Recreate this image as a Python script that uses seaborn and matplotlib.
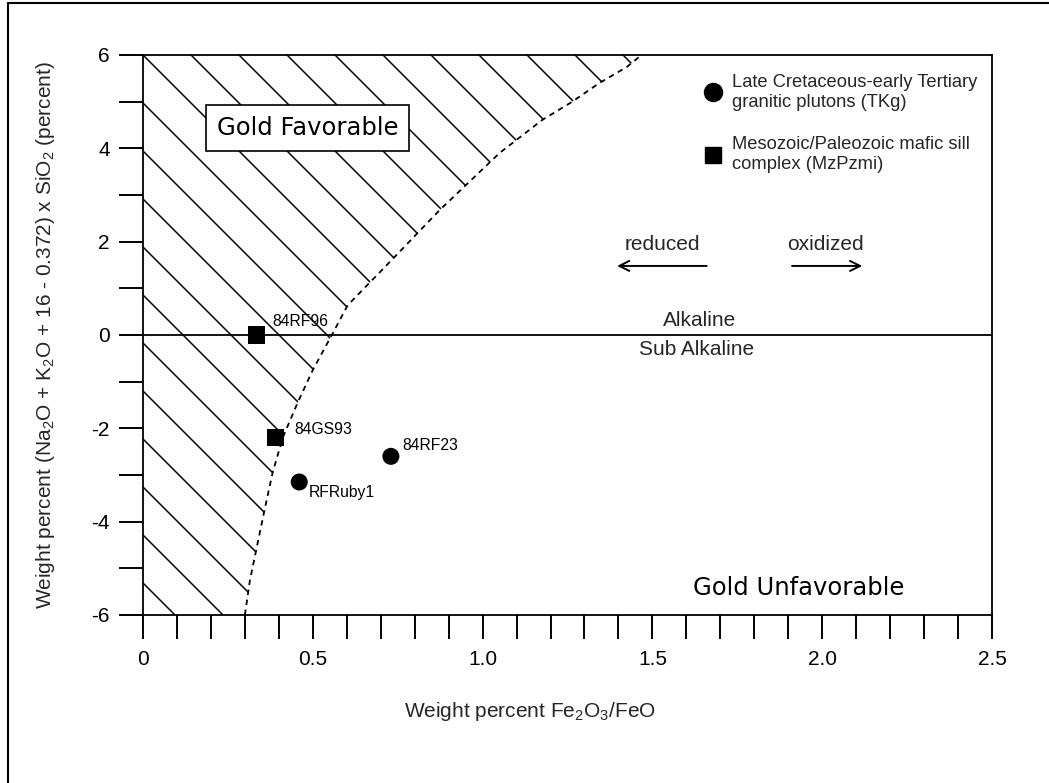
import numpy as np
import pandas as pd
import matplotlib
matplotlib.use("Agg")
import matplotlib.pyplot as plt
from matplotlib.lines import Line2D
from matplotlib.patches import Polygon
import seaborn as sns

# --- data -----------------------------------------------------------------
samples = ["84RF96", "84GS93", "RFRuby1", "84RF23"]
fe_ratio = [0.335, 0.39, 0.46, 0.73]          # Fe2O3/FeO
alkali_index = [0.0, -2.2, -3.15, -2.6]       # (Na2O+K2O+16-0.372) x SiO2
unit = ["MzPzmi", "MzPzmi", "TKg", "TKg"]

# boundary between gold-favorable and gold-unfavorable fields
boundary_x = [0.30, 0.315, 0.359, 0.382, 0.412, 0.456, 0.50, 0.556, 0.603,
              0.726, 0.874, 1.05, 1.176, 1.262, 1.344, 1.424, 1.468]
boundary_y = [-6.0, -5.25, -3.71, -2.94, -2.19, -1.44, -0.75, 0.0, 0.64,
              1.56, 2.68, 3.90, 4.61, 4.99, 5.40, 5.74, 6.0]

legend_labels = {
    "TKg": "Late Cretaceous-early Tertiary\ngranitic plutons (TKg)",
    "MzPzmi": "Mesozoic/Paleozoic mafic sill\ncomplex (MzPzmi)",
}

df = pd.DataFrame({"sample": samples, "x": fe_ratio, "y": alkali_index, "unit": unit})

# --- style ----------------------------------------------------------------
sns.set_theme(style="white")
plt.rcParams["font.family"] = ["Liberation Sans", "DejaVu Sans"]
plt.rcParams["mathtext.fontset"] = "custom"
plt.rcParams["mathtext.rm"] = "Liberation Sans"
plt.rcParams["mathtext.it"] = "Liberation Sans:italic"

W_PX, H_PX, DPI = 1049, 783, 100
fig = plt.figure(figsize=(W_PX / DPI, H_PX / DPI), dpi=DPI)
ax_l, ax_r, ax_t, ax_b = 143, 992, 55, 615
ax = fig.add_axes([ax_l / W_PX, 1 - ax_b / H_PX, (ax_r - ax_l) / W_PX, (ax_b - ax_t) / H_PX])
ax.set_facecolor("white")

ax.set_xlim(0, 2.5)
ax.set_ylim(-6, 6)

# favorable field (left of the boundary), hatched with diagonal lines
poly_pts = [(0, -6)] + list(zip(boundary_x, boundary_y)) + [(0, 6)]
field = Polygon(poly_pts, closed=True, facecolor="none", edgecolor="none")
ax.add_patch(field)
aw, ah = ax_r - ax_l, ax_b - ax_t
spacing = 48.0
for k in range(-int(ah // spacing) - 1, int(aw // spacing) + 2):
    c = ah + k * spacing
    ln, = ax.plot([0, c / aw], [c / ah, 0], transform=ax.transAxes,
                  color="black", lw=1.1, solid_capstyle="butt")
    ln.set_clip_path(field)

# boundary curve
ax.plot(boundary_x, boundary_y, color="black", lw=1.3, dashes=(3, 2.6))

# alkaline / sub-alkaline divide
ax.axhline(0, color="black", lw=1.3)

# samples
sns.scatterplot(data=df, x="x", y="y", style="unit",
                markers={"TKg": "o", "MzPzmi": "s"}, color="black",
                s=150, edgecolor="black", linewidth=0, legend=False, ax=ax, zorder=5)

label_offsets = {"84RF96": (11.5, 9.4), "84GS93": (13.7, 5.8),
                 "RFRuby1": (7.2, -7.9), "84RF23": (8.6, 7.9)}
for name, xv, yv in zip(samples, fe_ratio, alkali_index):
    ax.annotate(name, (xv, yv), xytext=label_offsets[name], textcoords="offset points",
                ha="left", va="center", fontsize=11.3, color="black")

# field annotations
ax.text(0.485, 4.44, "Gold Favorable", ha="center", va="center", fontsize=17.5,
        family=["DejaVu Sans"], color="black",
        bbox=dict(boxstyle="square,pad=0.45", facecolor="white", edgecolor="black", lw=1.2),
        zorder=6)
ax.text(1.932, -5.42, "Gold Unfavorable", ha="center", va="center", fontsize=17.5,
        family=["DejaVu Sans"], color="black")

ax.text(1.53, 1.93, "reduced", ha="center", va="center", fontsize=15)
ax.text(2.01, 1.93, "oxidized", ha="center", va="center", fontsize=15)
arrow_style = dict(arrowstyle="->,head_length=0.6,head_width=0.3", color="black", lw=1.4)
ax.annotate("", xy=(1.388, 1.48), xytext=(1.668, 1.48), arrowprops=arrow_style)
ax.annotate("", xy=(2.126, 1.48), xytext=(1.903, 1.48), arrowprops=arrow_style)

ax.text(1.638, 0.32, "Alkaline", ha="center", va="center", fontsize=15)
ax.text(1.63, -0.32, "Sub Alkaline", ha="center", va="center", fontsize=15)

# axes, ticks, labels
for sp in ax.spines.values():
    sp.set_visible(True)
    sp.set_color("black")
    sp.set_linewidth(1.3)

ax.set_xticks(np.arange(0, 2.51, 0.5))
ax.set_xticklabels(["0", "0.5", "1.0", "1.5", "2.0", "2.5"])
ax.set_xticks(np.arange(0, 2.51, 0.1), minor=True)
ax.set_yticks(np.arange(-6, 7, 2))
ax.set_yticklabels(["-6", "-4", "-2", "0", "2", "4", "6"])
ax.set_yticks(np.arange(-5, 6, 2), minor=True)
ax.tick_params(axis="both", which="both", direction="out", length=17, width=1.4,
               color="black", labelsize=15, labelcolor="black",
               bottom=True, left=True, top=False, right=False)
ax.tick_params(axis="x", which="both", pad=8)
ax.tick_params(axis="y", which="both", pad=7)

ax.set_xlabel("Weight percent Fe$_2$O$_3$/FeO", fontsize=15)
ax.set_ylabel("Weight percent (Na$_2$O + K$_2$O + 16 - 0.372) x SiO$_2$ (percent)", fontsize=15)
ax.xaxis.set_label_coords(0.456, -0.152)
ax.yaxis.set_label_coords(-0.101, 0.5)

# legend
handles = [Line2D([], [], marker="o", linestyle="none", color="black", markersize=13),
           Line2D([], [], marker="s", linestyle="none", color="black", markersize=12)]
ax.legend(handles, [legend_labels["TKg"], legend_labels["MzPzmi"]],
          loc="upper left", bbox_to_anchor=(704 / W_PX, 1 - 74 / H_PX),
          bbox_transform=fig.transFigure, frameon=False, fontsize=13.2,
          handlelength=1.0, handletextpad=0.5, labelspacing=1.4, borderpad=0,
          borderaxespad=0)

# page frame
fig.add_artist(Line2D([8 / W_PX, 8 / W_PX], [0, 1 - 3 / H_PX], transform=fig.transFigure,
                      color="black", lw=1.5))
fig.add_artist(Line2D([8 / W_PX, 1], [1 - 3 / H_PX, 1 - 3 / H_PX], transform=fig.transFigure,
                      color="black", lw=1.5))

fig.savefig("out.png", dpi=DPI, facecolor="white")
